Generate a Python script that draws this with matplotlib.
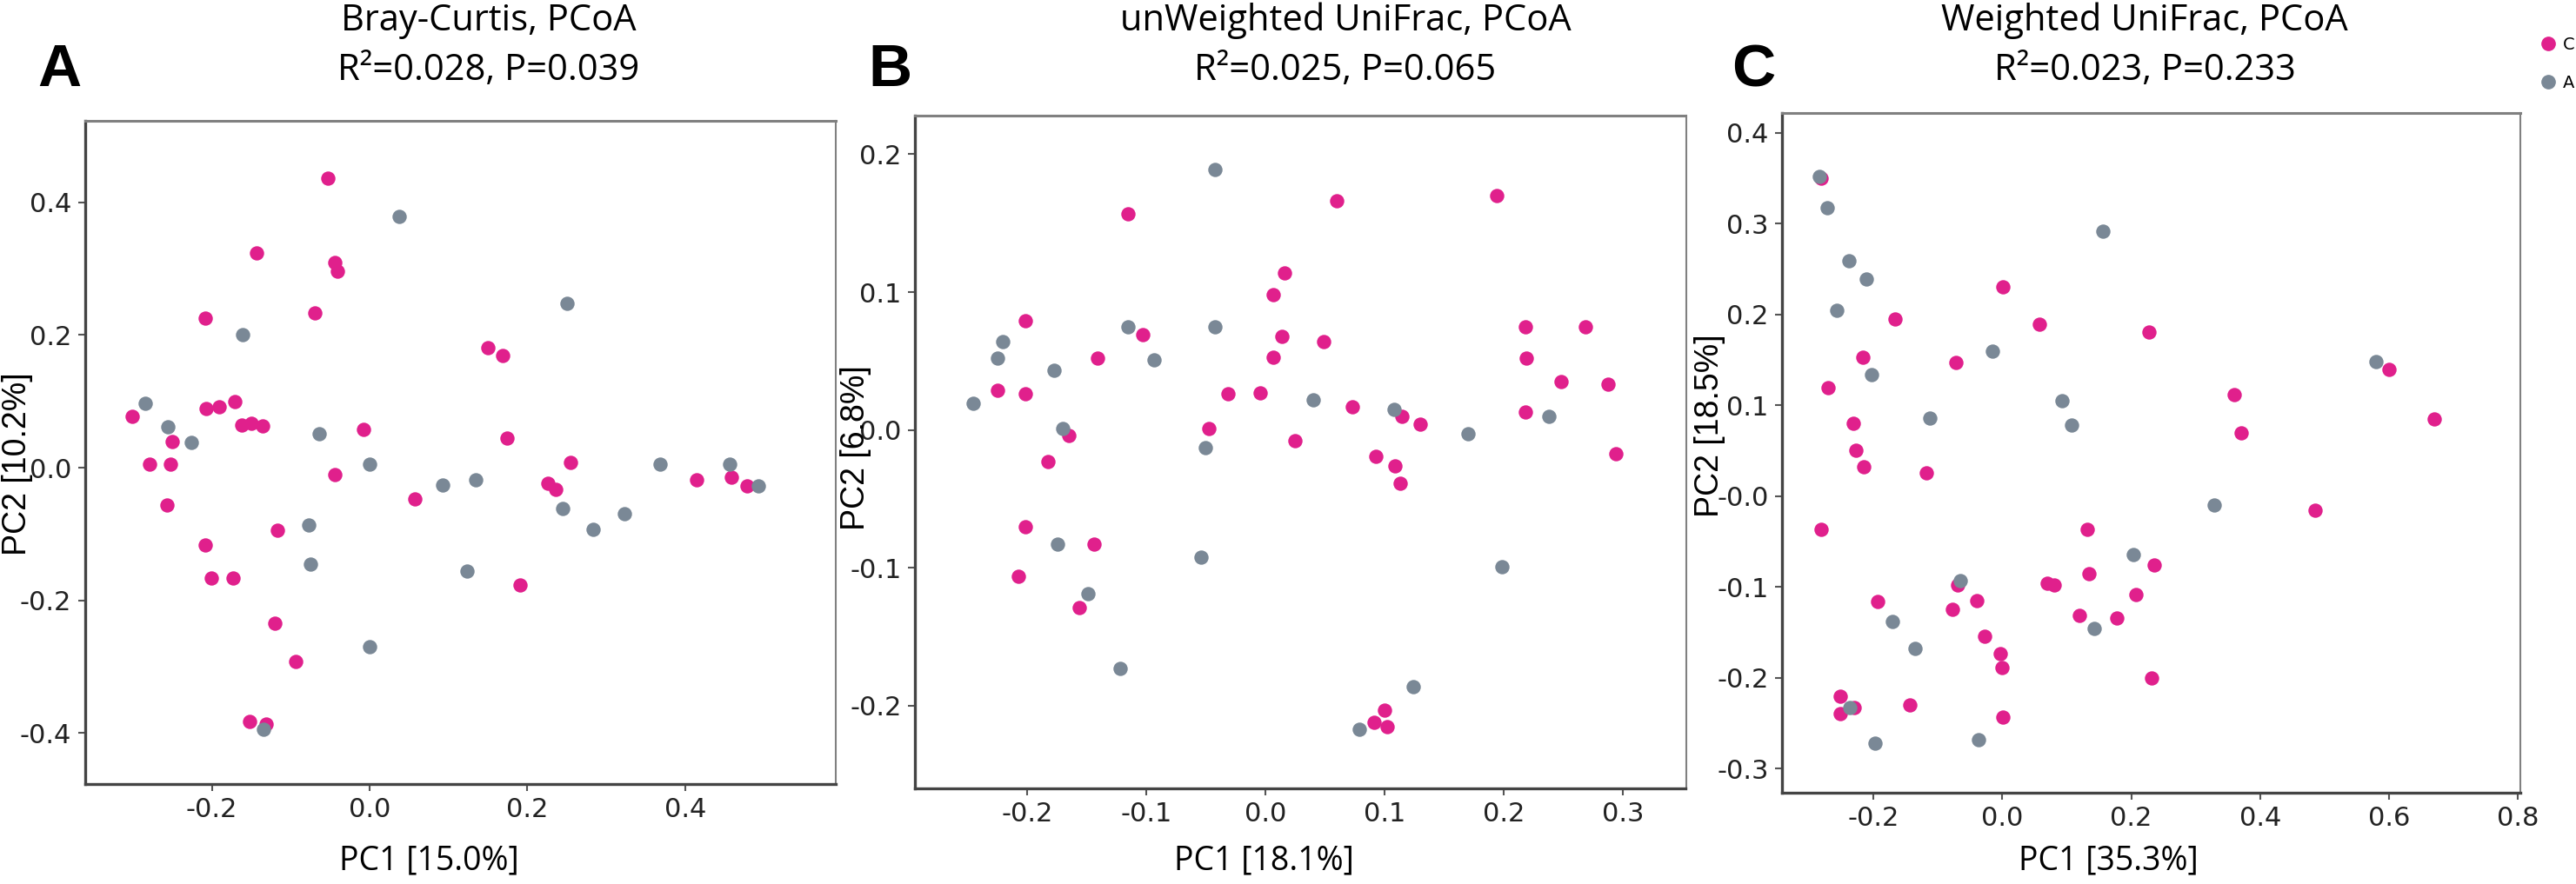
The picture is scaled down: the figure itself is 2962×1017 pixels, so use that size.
import matplotlib
matplotlib.use('Agg')
import matplotlib.pyplot as plt
from matplotlib.lines import Line2D

plt.rcParams['axes.unicode_minus'] = False

# group colours
pink = '#E0208C'
grey = '#7A8896'

# ---- panel A: Bray-Curtis ----
a_c_x = [-0.053, -0.143, -0.044, -0.041, -0.208, -0.070, 0.150, 0.169, -0.301, -0.207,
         -0.191, -0.171, -0.162, -0.150, -0.136, -0.008, 0.174, -0.250, -0.279, -0.252,
         -0.257, -0.044, 0.057, -0.117, -0.208, -0.201, -0.173, 0.191, -0.120, -0.094,
         -0.152, -0.131, 0.226, 0.236, 0.255, 0.415, 0.459, 0.479]
a_c_y = [0.437, 0.324, 0.309, 0.296, 0.225, 0.233, 0.181, 0.169, 0.078, 0.089,
         0.092, 0.100, 0.064, 0.067, 0.063, 0.058, 0.045, 0.039, 0.005, 0.005,
         -0.056, -0.010, -0.047, -0.094, -0.117, -0.166, -0.166, -0.177, -0.235, -0.292,
         -0.383, -0.386, -0.023, -0.033, 0.008, -0.018, -0.015, -0.027]
a_a_x = [0.037, 0.250, -0.161, -0.284, -0.256, -0.226, -0.064, 0.000, 0.093, 0.135,
         0.245, 0.283, 0.323, 0.368, 0.456, 0.493, -0.077, -0.075, 0.124, 0.000, -0.135]
a_a_y = [0.379, 0.248, 0.200, 0.097, 0.062, 0.038, 0.051, 0.005, -0.026, -0.018,
         -0.062, -0.093, -0.069, 0.005, 0.005, -0.027, -0.086, -0.146, -0.156, -0.270, -0.395]

# ---- panel B: unweighted UniFrac ----
b_c_x = [-0.115, 0.060, 0.194, 0.016, 0.007, -0.201, -0.103, 0.014, 0.049, -0.141,
         0.007, 0.218, 0.269, 0.219, 0.248, 0.288, -0.225, -0.201, -0.031, -0.004,
         0.073, 0.115, 0.130, 0.218, -0.047, -0.165, 0.025, 0.294, -0.182, 0.093,
         0.109, 0.113, -0.201, -0.144, -0.207, -0.156, 0.100, 0.091, 0.102]
b_c_y = [0.157, 0.166, 0.170, 0.114, 0.098, 0.079, 0.069, 0.068, 0.064, 0.052,
         0.053, 0.075, 0.075, 0.052, 0.035, 0.033, 0.029, 0.026, 0.026, 0.027,
         0.017, 0.010, 0.004, 0.013, 0.001, -0.004, -0.008, -0.017, -0.023, -0.019,
         -0.026, -0.039, -0.070, -0.083, -0.106, -0.129, -0.203, -0.212, -0.215]
b_a_x = [-0.042, -0.115, -0.042, -0.220, -0.225, -0.177, -0.245, -0.093, 0.040, 0.108,
         0.170, 0.238, -0.170, -0.050, -0.174, -0.054, 0.199, -0.149, -0.122, 0.124, 0.079]
b_a_y = [0.189, 0.075, 0.075, 0.064, 0.052, 0.043, 0.019, 0.051, 0.022, 0.015,
         -0.003, 0.010, 0.001, -0.013, -0.083, -0.092, -0.099, -0.119, -0.173, -0.186, -0.217]

# ---- panel C: weighted UniFrac ----
c_c_x = [-0.281, 0.001, -0.167, 0.058, 0.227, -0.217, -0.072, 0.600, -0.271, 0.360,
         0.670, -0.231, 0.370, -0.227, -0.215, -0.118, -0.281, 0.485, 0.132, 0.235,
         0.135, 0.069, 0.080, -0.070, 0.207, -0.040, -0.194, -0.078, 0.119, 0.178,
         -0.028, -0.003, 0.000, 0.231, -0.251, -0.230, -0.251, -0.143, 0.001]
c_c_y = [0.350, 0.231, 0.195, 0.189, 0.181, 0.153, 0.147, 0.140, 0.120, 0.112,
         0.085, 0.080, 0.070, 0.051, 0.032, 0.026, -0.036, -0.015, -0.036, -0.076,
         -0.085, -0.096, -0.098, -0.098, -0.108, -0.115, -0.116, -0.125, -0.131, -0.134,
         -0.154, -0.173, -0.189, -0.200, -0.220, -0.233, -0.239, -0.230, -0.243]
c_a_x = [-0.284, -0.272, -0.238, -0.211, -0.257, 0.156, -0.015, -0.203, 0.579, 0.093,
         -0.113, 0.108, 0.328, 0.203, -0.066, -0.171, 0.143, -0.135, -0.237, -0.198, -0.037]
c_a_y = [0.352, 0.318, 0.259, 0.239, 0.205, 0.292, 0.160, 0.134, 0.148, 0.105,
         0.086, 0.078, -0.010, -0.064, -0.093, -0.138, -0.146, -0.168, -0.233, -0.272, -0.268]

titles = ['Bray-Curtis, PCoA', 'unWeighted UniFrac, PCoA', 'Weighted UniFrac, PCoA']
stats = ['R²=0.028, P=0.039', 'R²=0.025, P=0.065', 'R²=0.023, P=0.233']
letters = ['A', 'B', 'C']
xlabels = ['PC1 [15.0%]', 'PC1 [18.1%]', 'PC1 [35.3%]']
ylabels = ['PC2 [10.2%]', 'PC2 [6.8%]', 'PC2 [18.5%]']

xticks = [[-0.2, 0.0, 0.2, 0.4],
          [-0.2, -0.1, 0.0, 0.1, 0.2, 0.3],
          [-0.2, 0.0, 0.2, 0.4, 0.6, 0.8]]
xticklabels = [['-0.2', '0.0', '0.2', '0.4'],
               ['-0.2', '-0.1', '0.0', '0.1', '0.2', '0.3'],
               ['-0.2', '0.0', '0.2', '0.4', '0.6', '0.8']]
yticks = [[-0.4, -0.2, 0.0, 0.2, 0.4],
          [-0.2, -0.1, 0.0, 0.1, 0.2],
          [-0.3, -0.2, -0.1, 0.0, 0.1, 0.2, 0.3, 0.4]]
yticklabels = [['-0.4', '-0.2', '0.0', '0.2', '0.4'],
               ['-0.2', '-0.1', '0.0', '0.1', '0.2'],
               ['-0.3', '-0.2', '-0.1', '-0.0', '0.1', '0.2', '0.3', '0.4']]

panels = [(a_c_x, a_c_y, a_a_x, a_a_y),
          (b_c_x, b_c_y, b_a_x, b_a_y),
          (c_c_x, c_c_y, c_a_x, c_a_y)]

W, H = 2962, 1017
fig = plt.figure(figsize=(W / 100, H / 100), dpi=100)

# layout in pixels (left, right, top, bottom) and axis ranges
boxes = [(97.6, 961, 139, 902), (1052, 1938.5, 133, 907), (2049, 2897.5, 130, 911.5)]
xlims = [(-0.361, 0.591), (-0.294, 0.353), (-0.342, 0.803)]
ylims = [(-0.477, 0.523), (-0.260, 0.228), (-0.326, 0.422)]
title_x = [562, 1547, 2466]
letter_x = [68, 1023, 2016]
xlabel_x = [493, 1453, 2424]
ylabel_pos = [(20, 534), (984, 515), (1966, 490)]

tick_font = ['Liberation Sans Narrow', 'DejaVu Sans']
title_font = ['Open Sans', 'DejaVu Sans']

for i, (cx, cy, ax_, ay) in enumerate(panels):
    l, r, t, b = boxes[i]
    ax = fig.add_axes([l / W, 1 - b / H, (r - l) / W, (b - t) / H])
    ax.scatter(cx, cy, s=140, color=pink, linewidths=0, zorder=2)
    ax.scatter(ax_, ay, s=140, color=grey, linewidths=0, zorder=3)
    ax.set_xlim(*xlims[i])
    ax.set_ylim(*ylims[i])
    ax.set_xticks(xticks[i])
    ax.set_xticklabels(xticklabels[i], family=tick_font, fontsize=22, color='#222222')
    ax.set_yticks(yticks[i])
    ax.set_yticklabels(yticklabels[i], family=tick_font, fontsize=22, color='#222222')
    ax.tick_params(length=6, width=1.5, color='#555555', pad=5)
    for side in ['left', 'bottom']:
        ax.spines[side].set_color('#444444')
        ax.spines[side].set_linewidth(2.4)
    ax.spines['top'].set_color('#808080')
    ax.spines['top'].set_linewidth(2.2)
    ax.spines['right'].set_color('#808080')
    ax.spines['right'].set_linewidth(1.5)

    fig.text(title_x[i] / W, 1 - 24 / H, titles[i], family=title_font, fontsize=30,
             ha='center', va='center')
    fig.text(title_x[i] / W, 1 - 81 / H, stats[i], family=title_font, fontsize=30,
             ha='center', va='center')
    fig.text(letter_x[i] / W, 1 - 81 / H, letters[i], family='Liberation Sans',
             fontweight='bold', fontsize=50, ha='center', va='center')
    fig.text(xlabel_x[i] / W, 1 - 990 / H, xlabels[i], family=title_font, fontsize=27,
             ha='center', va='center')
    fig.text(ylabel_pos[i][0] / W, 1 - ylabel_pos[i][1] / H, ylabels[i],
             family='Liberation Sans', fontsize=27, rotation=90, ha='center', va='center')

handles = [Line2D([], [], marker='o', linestyle='none', color=pink, markersize=11),
           Line2D([], [], marker='o', linestyle='none', color=grey, markersize=11)]
fig.legend(handles, ['C', 'A'], loc='upper left', bbox_to_anchor=(2918 / W, 1 - 42 / H),
           frameon=False, prop={'family': tick_font, 'size': 14},
           handlelength=1.2, handletextpad=0.3, labelspacing=1.3,
           borderpad=0, borderaxespad=0)

fig.savefig('out.png', dpi=100)
